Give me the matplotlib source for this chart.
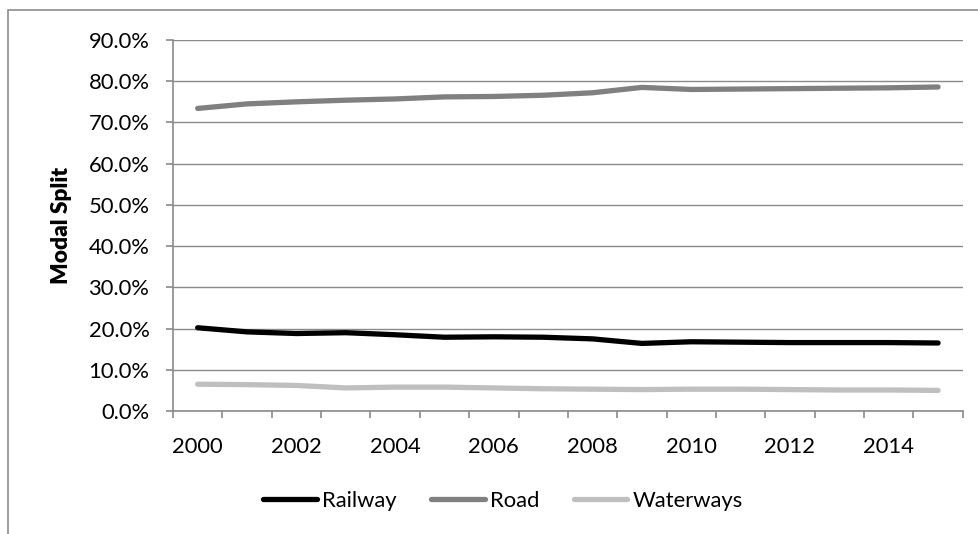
import matplotlib
matplotlib.use("Agg")
import matplotlib.pyplot as plt
from matplotlib.patches import Rectangle
from matplotlib.ticker import FuncFormatter, FixedLocator

plt.rcParams['font.family'] = ['Lato', 'DejaVu Sans']

years = list(range(2000, 2016))
railway = [20.2, 19.2, 18.8, 19.0, 18.5, 17.9, 18.0, 17.9, 17.5, 16.4, 16.8, 16.7, 16.6, 16.6, 16.6, 16.5]
road = [73.4, 74.5, 75.0, 75.4, 75.7, 76.2, 76.3, 76.6, 77.2, 78.5, 78.0, 78.1, 78.2, 78.3, 78.4, 78.6]
waterways = [6.5, 6.4, 6.2, 5.6, 5.8, 5.8, 5.6, 5.4, 5.3, 5.2, 5.3, 5.3, 5.2, 5.1, 5.1, 5.0]

series = [("Railway", railway, "#000000"),
          ("Road", road, "#808080"),
          ("Waterways", waterways, "#bfbfbf")]

fs = 15.8

fig = plt.figure(figsize=(9.79, 5.34), dpi=100)
ax = fig.add_axes([0.1767, 0.2303, 0.8067, 0.6948])

# chart frame
fig.patches.append(Rectangle((8 / 979, -0.1), 1.2, 1.0 - 10 / 534 + 0.1,
                             transform=fig.transFigure, fill=False,
                             edgecolor="#8c8c8c", linewidth=1.2))

x = list(range(len(years)))
for name, vals, col in series:
    ax.plot(x, vals, color=col, linewidth=3.8, solid_capstyle="round",
            solid_joinstyle="round", label=name, zorder=3)

ax.set_ylim(0, 90)
ax.set_yticks(range(0, 91, 10))
ax.yaxis.set_major_formatter(FuncFormatter(lambda v, p: f"{v:.1f}%"))
ax.grid(axis="y", color="#8a8a8a", linewidth=1.0, zorder=0)

ax.set_xlim(-0.5, len(years) - 0.5)
ax.xaxis.set_major_locator(FixedLocator(x[::2]))
ax.set_xticklabels([str(y) for y in years[::2]])
ax.xaxis.set_minor_locator(FixedLocator([i - 0.5 for i in range(len(years) + 1)]))

for side in ("top", "right"):
    ax.spines[side].set_visible(False)
for side in ("left", "bottom"):
    ax.spines[side].set_color("#8a8a8a")
    ax.spines[side].set_linewidth(1.2)

ax.tick_params(axis="x", which="major", length=0, pad=19, labelsize=fs)
ax.tick_params(axis="x", which="minor", length=5, width=1.2, color="#8a8a8a")
ax.tick_params(axis="y", length=5, width=1.2, color="#8a8a8a", pad=12, labelsize=fs)

ax.set_ylabel("Modal Split", fontsize=fs + 0.5, fontweight="heavy")
ax.yaxis.set_label_coords(-0.128, 0.5)

fig.legend(loc="center", bbox_to_anchor=(503 / 979, 1 - 501 / 534), ncol=3,
           frameon=False, fontsize=fs, handlelength=2.45, handletextpad=0.25,
           columnspacing=1.55)

fig.savefig("out.png", dpi=100)
